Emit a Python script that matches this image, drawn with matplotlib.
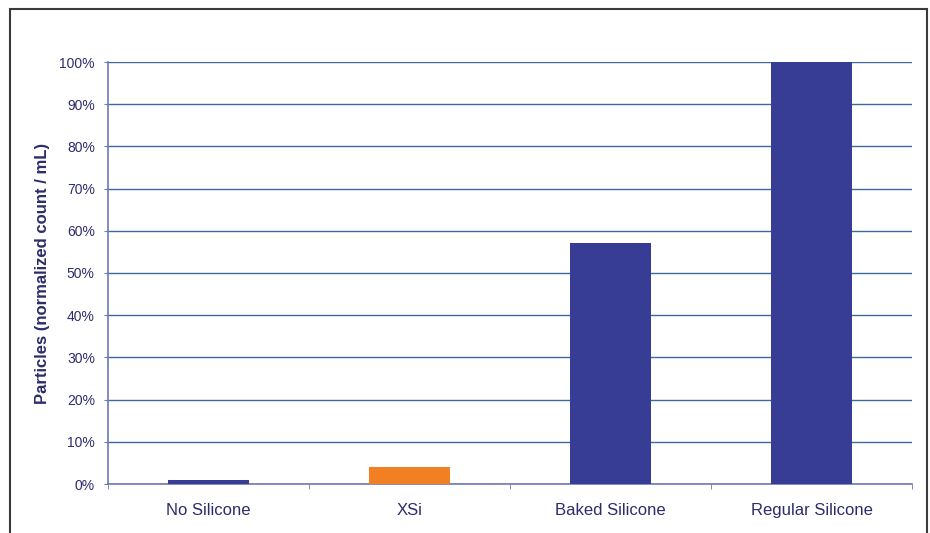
import matplotlib.pyplot as plt
from matplotlib.patches import Rectangle
from matplotlib.ticker import PercentFormatter

# Data
categories = ['No Silicone', 'XSi', 'Baked Silicone', 'Regular Silicone']
values = [1, 4, 57, 100]
bar_colors = ['#373C94', '#F27F22', '#373C94', '#373C94']

text_color = '#2B2D6B'
grid_color = '#3D6A9E'
axis_color = '#6F78B4'

plt.rcParams['font.family'] = ['Liberation Sans', 'DejaVu Sans']

fig = plt.figure(figsize=(9.3, 5.33), dpi=100)

# outer frame around the chart (runs off the bottom edge)
fig.patches.append(Rectangle((10 / 930, -0.05), 917 / 930, 1 - 9 / 533 + 0.05,
                             transform=fig.transFigure, fill=False,
                             edgecolor='#3a3a3a', linewidth=1.5))

ax = fig.add_axes([108 / 930, 1 - 484 / 533, 804 / 930, 422 / 533])

x = list(range(len(categories)))
ax.bar(x, values, width=0.4, color=bar_colors, zorder=3)

ax.set_xlim(-0.5, len(categories) - 0.5)
ax.set_ylim(0, 100)
ax.set_yticks(range(0, 101, 10))
ax.yaxis.set_major_formatter(PercentFormatter(decimals=0))
ax.grid(axis='y', color=grid_color, linewidth=1, zorder=0)

ax.set_xticks(x)
ax.set_xticklabels(categories, fontsize=12, color=text_color)
ax.set_xticks([i - 0.5 for i in range(len(categories) + 1)], minor=True)
ax.tick_params(axis='x', which='major', length=0, pad=14)
ax.tick_params(axis='x', which='minor', length=3.5, color=axis_color, direction='out')
ax.tick_params(axis='y', length=3, color=axis_color, labelsize=10,
               labelcolor=text_color, pad=6.5)

for side in ['top', 'right']:
    ax.spines[side].set_visible(False)
for side in ['left', 'bottom']:
    ax.spines[side].set_color(axis_color)
    ax.spines[side].set_linewidth(1.2)

ax.set_ylabel('Particles (normalized count / mL)', fontsize=12, fontweight='bold',
              color=text_color, labelpad=7)

fig.savefig('out.png', dpi=100)
